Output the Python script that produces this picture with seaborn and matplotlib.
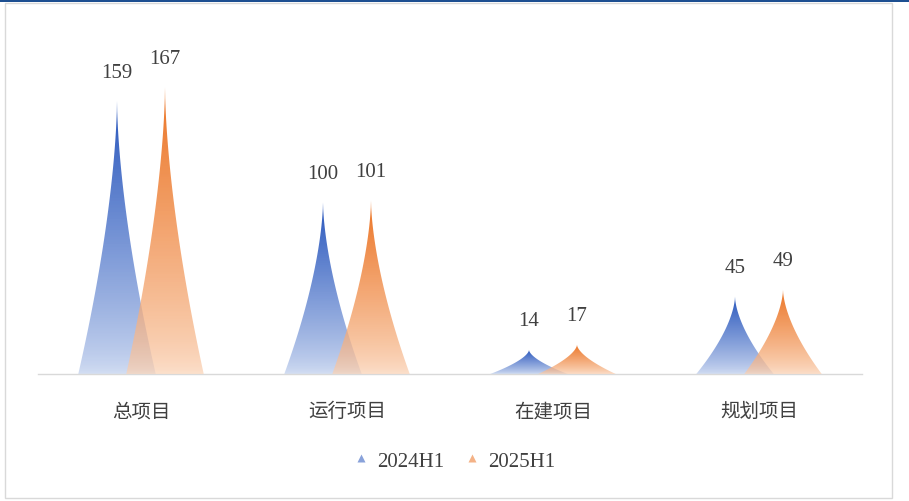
import numpy as np
import pandas as pd
import matplotlib
matplotlib.use("Agg")
import matplotlib.pyplot as plt
from matplotlib.patches import Polygon, Rectangle
from matplotlib.lines import Line2D
from matplotlib.colors import to_rgb
import seaborn as sns

# Project counts by category, first half of 2024 vs first half of 2025
categories = ["总项目", "运行项目", "在建项目", "规划项目"]
periods = ["2024H1", "2025H1"]
values_2024 = [159, 100, 14, 45]
values_2025 = [167, 101, 17, 49]

# (peak colour, base colour) of each series' gradient
palette = {
    "2024H1": ("#2856bd", "#c4d3ef"),
    "2025H1": ("#ec7424", "#fbd5b9"),
}
text_color = "#404040"

df = pd.DataFrame({
    "类别": categories * 2,
    "时期": [periods[0]] * len(categories) + [periods[1]] * len(categories),
    "数量": values_2024 + values_2025,
})

sns.set_theme(style="white")
plt.rcParams["font.family"] = ["Liberation Serif", "Noto Sans CJK SC"]

W, H = 909, 502
fig = plt.figure(figsize=(W / 100, H / 100), dpi=100)
fig.patch.set_facecolor("white")
ax = fig.add_axes([38 / W, 127 / H, 824 / W, 343 / H])

# Invisible dodged bars give the category / series positions and heights
sns.barplot(data=df, x="类别", y="数量", hue="时期", order=categories,
            hue_order=periods, width=0.466, errorbar=None, legend=False,
            ax=ax)

half_base = 0.188   # half width of a spike's base, in category units
shape_exp = 0.62    # < 1 gives concave sides with a needle-like tip

spikes = []
for period, container in zip(periods, ax.containers):
    for bar in container:
        cx = bar.get_x() + bar.get_width() / 2
        h = bar.get_height()
        spikes.append((period, cx, h))
        bar.set_visible(False)

t = np.linspace(0, 1, 256)          # 0 at base, 1 at peak
for period, cx, h in spikes:
    top, bottom = palette[period]
    u = np.linspace(-1, 1, 401)
    xs = cx + half_base * u
    ys = h * (1 - np.abs(u) ** shape_exp)
    poly = Polygon(np.column_stack([xs, ys]), closed=True,
                   facecolor="none", edgecolor="none",
                   transform=ax.transData)
    ax.add_patch(poly)
    s = t ** 0.6
    c_top, c_bot = np.array(to_rgb(top)), np.array(to_rgb(bottom))
    rgb = c_bot[None, :] * (1 - s[:, None]) + c_top[None, :] * s[:, None]
    alpha = 0.7 + 0.3 * t
    img = np.concatenate([rgb, alpha[:, None]], axis=1)[:, None, :]
    im = ax.imshow(img, extent=[cx - half_base, cx + half_base, 0, h],
                   origin="lower", aspect="auto", interpolation="bilinear",
                   zorder=2 + (1 if period == periods[1] else 0))
    im.set_clip_path(poly)
    ax.annotate(f"{h:g}", (cx, h), xytext=(0, 21), textcoords="offset points",
                ha="center", va="center", fontsize=15, color=text_color,
                family=["Liberation Serif"])

ax.set_xlim(-0.5, len(categories) - 0.5)
ax.set_ylim(0, 200)
ax.set_xlabel("")
ax.set_ylabel("")
ax.set_yticks([])
ax.tick_params(axis="x", length=0, pad=19, labelsize=14, labelcolor=text_color)
for lbl in ax.get_xticklabels():
    lbl.set_family(["Noto Sans CJK SC"])
for side in ("top", "left", "right"):
    ax.spines[side].set_visible(False)
ax.spines["bottom"].set_color("#d9d9d9")
ax.spines["bottom"].set_linewidth(1.0)
ax.set_facecolor("none")

handles = [Line2D([], [], linestyle="none", marker="^", markersize=6,
                  markerfacecolor=palette[p][0], markeredgecolor="none",
                  alpha=0.55)
           for p in periods]
leg = fig.legend(handles, periods, loc="center", ncol=2, frameon=False,
                 bbox_to_anchor=(0.5, 1 - 462 / H), fontsize=15,
                 handlelength=0.7, handletextpad=0.4, columnspacing=1.0)
for txt in leg.get_texts():
    txt.set_color(text_color)

# Outer frame and the blue strip along the top edge
fig.patches.append(Rectangle((5 / W, 3 / H), 887 / W, 495 / H, fill=False,
                             edgecolor="#d9d9d9", linewidth=1.0,
                             transform=fig.transFigure))
fig.patches.append(Rectangle((0, 1 - 3 / H), 1, 3 / H, facecolor="#1d4f91",
                             edgecolor="none", transform=fig.transFigure))

fig.savefig("out.png", dpi=100)
